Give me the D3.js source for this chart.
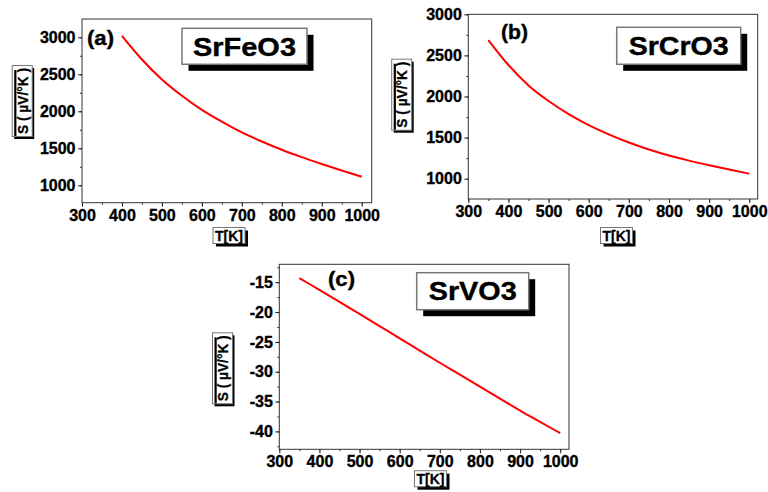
<!DOCTYPE html>
<html>
<head>
<meta charset="utf-8">
<script src="https://cdn.jsdelivr.net/npm/d3@7"></script>
<style>
  html, body { margin: 0; padding: 0; background: #fff; }
  svg { display: block; }
  text { font-family: "Liberation Sans", Arial, sans-serif; font-weight: bold; }
</style>
</head>
<body>
<svg id="chart" width="768" height="492"></svg>
<script>
// Seebeck coefficient S (µV/°K) versus temperature T (K)
const temperatureFe = [400, 450, 500, 550, 600, 650, 700, 750, 800, 850, 900, 950, 1000];
const seebeckFe = [3020, 2700, 2430, 2210, 2020, 1860, 1715, 1592, 1480, 1380, 1288, 1200, 1115];

const temperatureCr = [350, 400, 450, 500, 550, 600, 650, 700, 750, 800, 850, 900, 950, 1000];
const seebeckCr = [2687, 2383, 2135, 1945, 1786, 1653, 1540, 1440, 1355, 1282, 1220, 1164, 1111, 1061];

const temperatureV = [350, 400, 450, 500, 550, 600, 650, 700, 750, 800, 850, 900, 950, 1000];
const seebeckV = [-14.3, -16.3, -18.3, -20.3, -22.35, -24.4, -26.45, -28.5, -30.5, -32.5, -34.5, -36.5, -38.4, -40.3];

const xTicks = [300, 400, 500, 600, 700, 800, 900, 1000];
const yTicksFe = [1000, 1500, 2000, 2500, 3000];
const yTicksCr = [1000, 1500, 2000, 2500, 3000];
const yTicksV = [-15, -20, -25, -30, -35, -40];

const compounds = ["SrFeO3", "SrCrO3", "SrVO3"];
const panelTags = ["(a)", "(b)", "(c)"];
const xTitle = "T[K]";
const yTitle = "S ( \u00B5V/\u00B0K )";

const svg = d3.select("#chart");

const panels = [
  {
    t: temperatureFe, s: seebeckFe, yTicks: yTicksFe, yMinorStep: 250,
    xDomain: [300, 1025], yDomain: [765, 3247],
    x0: 82, x1: 371.7, y0: 202.7, y1: 19,
    name: compounds[0], nameBox: [182, 28.3, 125, 36], nameWidth: 103,
    tag: panelTags[0], tagPos: [87, 45],
    xTitlePos: [229, 235.5], yTitlePos: [22.2, 101]
  },
  {
    t: temperatureCr, s: seebeckCr, yTicks: yTicksCr, yMinorStep: 250,
    xDomain: [300, 1021], yDomain: [753, 3000],
    x0: 468.3, x1: 757.7, y0: 199, y1: 14.3,
    name: compounds[1], nameBox: [616.7, 27.3, 124, 37], nameWidth: 100,
    tag: panelTags[1], tagPos: [501, 39],
    xTitlePos: [616.5, 235.5], yTitlePos: [401.7, 94.7]
  },
  {
    t: temperatureV, s: seebeckV, yTicks: yTicksV, yMinorStep: 2.5,
    xDomain: [300, 1022], yDomain: [-43, -12],
    x0: 279.3, x1: 569, y0: 449.3, y1: 264.3,
    name: compounds[2], nameBox: [416.7, 272.7, 112, 37], nameWidth: 88,
    tag: panelTags[2], tagPos: [328, 286],
    xTitlePos: [430.5, 478.7], yTitlePos: [222.5, 368.3]
  }
];

function minorTicks(domain, step) {
  const lo = Math.ceil(domain[0] / step) * step;
  return d3.range(lo, domain[1] + 1e-9, step);
}

function styleLabels(a) {
  a.selectAll("text").attr("font-size", 16).attr("fill", "#000")
    .attr("stroke", "#000").attr("stroke-width", 0.35)
    .style("font-family", '"Liberation Sans", Arial, sans-serif').style("font-weight", "bold");
}

panels.forEach(p => {
  const x = d3.scaleLinear().domain(p.xDomain).range([p.x0, p.x1]);
  const y = d3.scaleLinear().domain(p.yDomain).range([p.y0, p.y1]);
  const g = svg.append("g");

  // minor ticks
  const xMinor = d3.axisBottom(x).tickValues(minorTicks(p.xDomain, 50)).tickSize(2).tickFormat("").tickSizeOuter(0);
  g.append("g").attr("transform", `translate(0,${p.y0})`).call(xMinor)
    .call(a => a.select(".domain").remove())
    .call(a => a.selectAll("line").attr("stroke", "#333"));
  const yMinor = d3.axisLeft(y).tickValues(minorTicks(p.yDomain, p.yMinorStep)).tickSize(2).tickFormat("").tickSizeOuter(0);
  g.append("g").attr("transform", `translate(${p.x0},0)`).call(yMinor)
    .call(a => a.select(".domain").remove())
    .call(a => a.selectAll("line").attr("stroke", "#333"));

  // major axes
  const xAxis = d3.axisBottom(x).tickValues(xTicks).tickSize(4).tickPadding(2.5).tickSizeOuter(0).tickFormat(d3.format("d"));
  g.append("g").attr("transform", `translate(0,${p.y0})`).call(xAxis)
    .call(a => a.select(".domain").remove())
    .call(a => a.selectAll("line").attr("stroke", "#222"))
    .call(styleLabels);
  const yAxis = d3.axisLeft(y).tickValues(p.yTicks).tickSize(4).tickPadding(2.5).tickSizeOuter(0)
    .tickFormat(d => String(d));
  g.append("g").attr("transform", `translate(${p.x0},0)`).call(yAxis)
    .call(a => a.select(".domain").remove())
    .call(a => a.selectAll("line").attr("stroke", "#222"))
    .call(styleLabels);

  // frame
  g.append("rect")
    .attr("x", p.x0).attr("y", p.y1)
    .attr("width", p.x1 - p.x0).attr("height", p.y0 - p.y1)
    .attr("fill", "none").attr("stroke", "#333").attr("stroke-width", 1);

  // curve
  const line = d3.line().x((d, i) => x(p.t[i])).y(d => y(d)).curve(d3.curveMonotoneX);
  g.append("path").datum(p.s)
    .attr("d", line).attr("fill", "none")
    .attr("stroke", "#ff0000").attr("stroke-width", 2);

  // panel tag
  g.append("text").attr("x", p.tagPos[0]).attr("y", p.tagPos[1])
    .attr("font-size", 21).attr("fill", "#000").attr("stroke", "#000").attr("stroke-width", 0.4)
    .attr("textLength", 27).attr("lengthAdjust", "spacingAndGlyphs")
    .text(p.tag);

  // compound name in shadowed box
  const [bx, by, bw, bh] = p.nameBox;
  g.append("rect").attr("x", bx + 6.5).attr("y", by + 6.5).attr("width", bw).attr("height", bh).attr("fill", "#000");
  g.append("rect").attr("x", bx).attr("y", by).attr("width", bw).attr("height", bh)
    .attr("fill", "#fff").attr("stroke", "#777").attr("stroke-width", 1.5);
  g.append("text").attr("x", bx + bw / 2).attr("y", by + bh / 2 + 9.2)
    .attr("text-anchor", "middle").attr("font-size", 25.5).attr("fill", "#000")
    .attr("stroke", "#000").attr("stroke-width", 0.4)
    .attr("textLength", p.nameWidth).attr("lengthAdjust", "spacingAndGlyphs")
    .text(p.name);

  // x axis title
  const xw = 32, xh = 16;
  const xt = g.append("g").attr("transform", `translate(${p.xTitlePos[0]},${p.xTitlePos[1]})`);
  xt.append("rect").attr("x", -xw / 2 + 3).attr("y", -xh / 2 + 3).attr("width", xw).attr("height", xh).attr("fill", "#000");
  xt.append("rect").attr("x", -xw / 2).attr("y", -xh / 2).attr("width", xw).attr("height", xh)
    .attr("fill", "#fff").attr("stroke", "#777").attr("stroke-width", 1);
  xt.append("text").attr("x", 0).attr("y", 5).attr("text-anchor", "middle")
    .attr("font-size", 14).attr("fill", "#000").attr("stroke", "#000").attr("stroke-width", 0.3)
    .text(xTitle);

  // y axis title (rotated), box with dark shadow edge
  const yw = 71, yh = 20;
  const yt = g.append("g").attr("transform", `translate(${p.yTitlePos[0]},${p.yTitlePos[1]}) rotate(-90)`);
  yt.append("rect").attr("x", -yw / 2 - 2.5).attr("y", -yh / 2 + 2).attr("width", yw).attr("height", yh).attr("fill", "#000");
  yt.append("rect").attr("x", -yw / 2).attr("y", -yh / 2).attr("width", yw).attr("height", yh)
    .attr("fill", "#fff").attr("stroke", "#777").attr("stroke-width", 1);
  yt.append("rect").attr("x", -yw / 2 + 0.5).attr("y", -yh / 2 + 2).attr("width", yw - 5).attr("height", 2.2)
    .attr("fill", "#000");
  yt.append("text").attr("x", 0).attr("y", 5.5).attr("text-anchor", "middle")
    .attr("font-size", 15).attr("fill", "#000").attr("stroke", "#000").attr("stroke-width", 0.3)
    .attr("textLength", 66).attr("lengthAdjust", "spacingAndGlyphs")
    .text(yTitle);
});
</script>
</body>
</html>
